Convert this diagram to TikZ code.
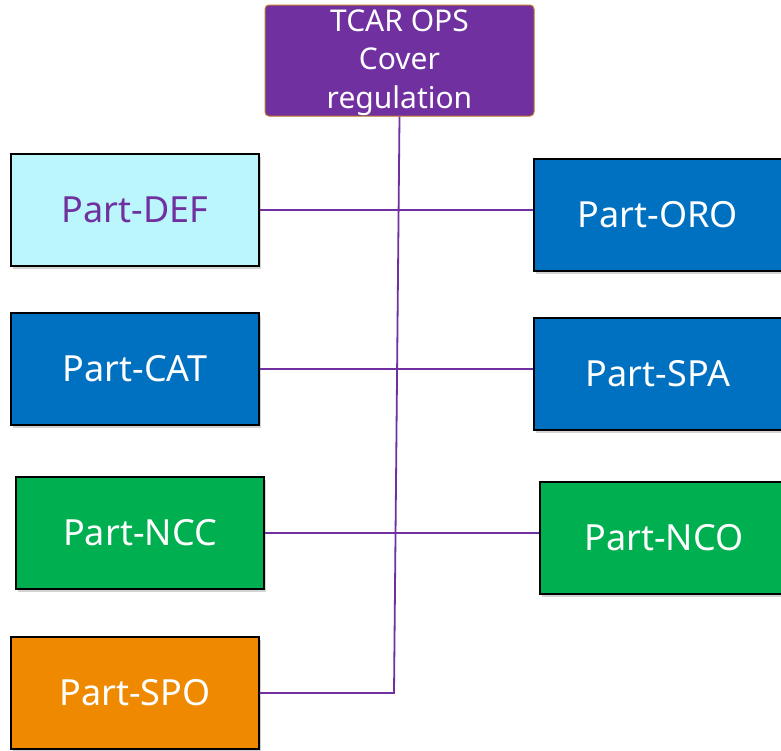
\documentclass[tikz,border=0pt]{standalone}
\usepackage{fontspec}
\setmainfont{Noto Sans}
\usetikzlibrary{shadows}
\definecolor{cpurple}{HTML}{7030A0}
\definecolor{corange}{HTML}{C0792A}
\definecolor{ccyan}{HTML}{BBF6FD}
\definecolor{cblue}{HTML}{0070C0}
\definecolor{cgreen}{HTML}{00B050}
\definecolor{cspo}{HTML}{EF8A00}
\begin{document}
\begin{tikzpicture}[x=1pt,y=-1pt,
  partbox/.style={draw=black, line width=1.2pt, minimum width=248pt, minimum height=112pt,
    inner sep=0pt, text=white, font=\fontsize{36}{40}\selectfont,
    drop shadow={shadow xshift=2pt, shadow yshift=-3pt, opacity=0.35}},
  link/.style={draw=cpurple, line width=1.8pt}]
\useasboundingbox (0,0) rectangle (781,750);
\node[draw=corange, line width=1pt, fill=cpurple, rounded corners=4pt, minimum width=269pt,
  minimum height=111pt, inner sep=0pt, text=white, align=center,
  font=\fontsize{30}{38.5}\selectfont] (top) at (399.5,60.5) {};
\node[text=white, align=center, inner sep=0pt, font=\fontsize{30}{38.5}\selectfont]
  (toptext) at (399.5,62.5) {TCAR OPS\\Cover\\regulation};
\node[partbox, fill=ccyan, text=cpurple] (def) at (135,210) {Part-DEF};
\node[partbox, fill=cblue] (oro) at (658,215) {Part-ORO};
\node[partbox, fill=cblue] (cat) at (135,369) {Part-CAT};
\node[partbox, fill=cblue] (spa) at (658,374) {Part-SPA};
\node[partbox, fill=cgreen] (ncc) at (140,533) {Part-NCC};
\node[partbox, fill=cgreen] (nco) at (664,538) {Part-NCO};
\node[partbox, fill=cspo] (spo) at (135,693) {Part-SPO};
\coordinate (corner) at (394,693);
\draw[link] (top.south) -- (corner) -- (spo.east);
\draw[link] (def.east) -- (def.east -| oro.west);
\draw[link] (cat.east) -- (cat.east -| spa.west);
\draw[link] (ncc.east) -- (ncc.east -| nco.west);
\end{tikzpicture}
\end{document}
